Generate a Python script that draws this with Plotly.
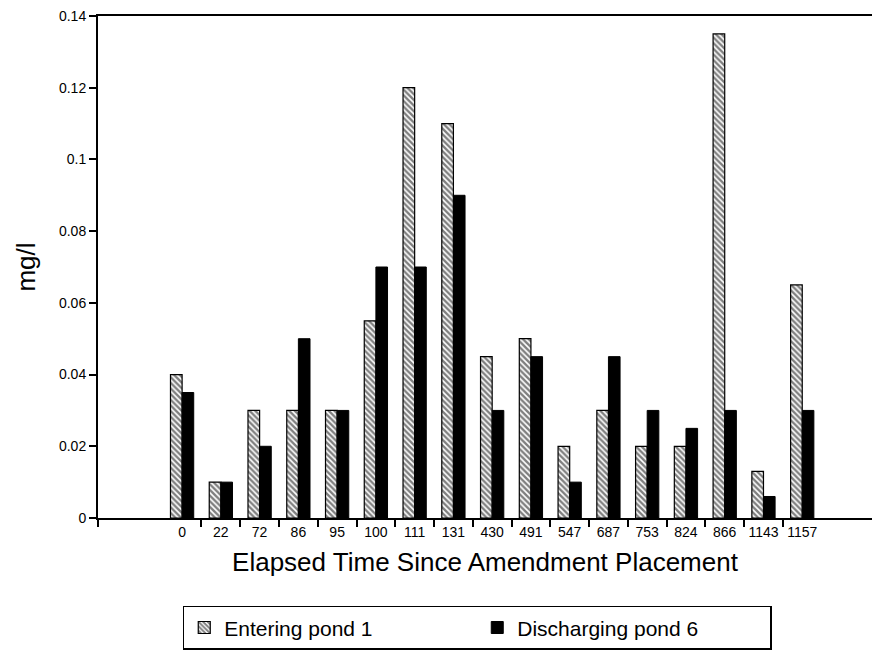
import plotly.graph_objects as go

categories = ["0", "22", "72", "86", "95", "100", "111", "131", "430", "491",
              "547", "687", "753", "824", "866", "1143", "1157"]
entering = [0.04, 0.01, 0.03, 0.03, 0.03, 0.055, 0.12, 0.11, 0.045, 0.05,
            0.02, 0.03, 0.02, 0.02, 0.135, 0.013, 0.065]
discharging = [0.035, 0.01, 0.02, 0.05, 0.03, 0.07, 0.07, 0.09, 0.03, 0.045,
               0.01, 0.045, 0.03, 0.025, 0.03, 0.006, 0.03]
y_ticks = [0, 0.02, 0.04, 0.06, 0.08, 0.1, 0.12, 0.14]
y_ticktext = ["0", "0.02", "0.04", "0.06", "0.08", "0.1", "0.12", "0.14"]

xpos = list(range(len(categories)))
font = "Liberation Sans, Arial, sans-serif"

fig = go.Figure()
fig.add_trace(go.Bar(
    x=xpos, y=entering, name="Entering pond 1",
    marker=dict(color="white",
                pattern=dict(shape="\\", fgcolor="black", bgcolor="white",
                             size=4, solidity=0.6),
                line=dict(color="black", width=1.2)),
))
fig.add_trace(go.Bar(
    x=xpos, y=discharging, name="Discharging pond 6",
    marker=dict(color="black", line=dict(color="black", width=1)),
))

boundaries = [-2.16] + [i + 0.5 for i in xpos[:-1]]

fig.update_layout(
    width=875, height=654,
    margin=dict(l=98, r=3, t=16, b=136),
    paper_bgcolor="white", plot_bgcolor="white",
    barmode="group", bargap=0.4, bargroupgap=0,
    font=dict(family=font, color="black"),
    showlegend=True,
    legend=dict(orientation="h", x=0.49, xanchor="center", y=-0.175, yanchor="top",
                font=dict(size=21, family=font), bordercolor="black", borderwidth=1.5,
                entrywidth=248, entrywidthmode="pixels", traceorder="normal"),
    xaxis=dict(
        range=[-2.17, 17.8],
        tickmode="array", tickvals=xpos, ticktext=categories,
        ticks="", showgrid=False, zeroline=False,
        showline=True, linecolor="black", linewidth=1.5, mirror=True,
        tickfont=dict(size=14, family=font),
        minor=dict(tickmode="array", tickvals=boundaries, ticks="outside",
                   ticklen=7, tickwidth=1.5, tickcolor="black", showgrid=False),
        title=dict(text="Elapsed Time Since Amendment Placement",
                   font=dict(size=26, family=font), standoff=14),
    ),
    yaxis=dict(
        range=[0, 0.14],
        tickmode="array", tickvals=y_ticks, ticktext=y_ticktext,
        ticks="outside", ticklen=7, tickwidth=1.5, tickcolor="black",
        showgrid=False, zeroline=False,
        showline=True, linecolor="black", linewidth=2,
        tickfont=dict(size=14, family=font),
        title=dict(text="mg/l", font=dict(size=26, family=font), standoff=16),
    ),
)

fig.write_html("out.html")
